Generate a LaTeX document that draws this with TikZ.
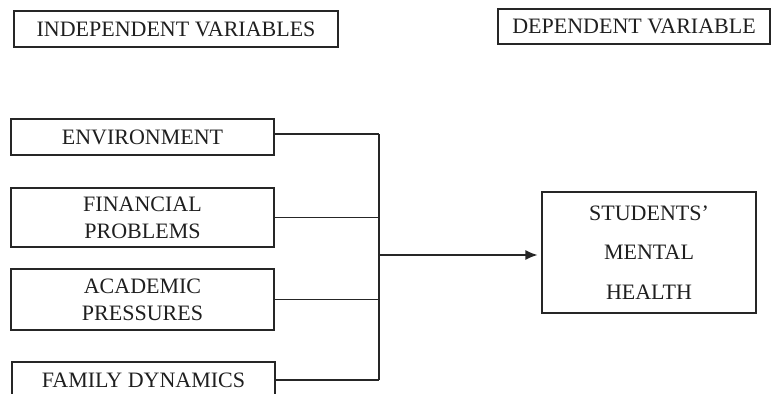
\documentclass[tikz,border=0pt]{standalone}
\usepackage{fontspec}
\setmainfont{Liberation Serif}
\usetikzlibrary{arrows.meta}
\begin{document}
\begin{tikzpicture}[x=1pt,y=-1pt,
  box/.style={draw=black!85, line width=1.2pt, inner sep=0pt, align=center,
    text=black!88, font=\fontsize{22}{27}\selectfont},
  wire/.style={draw=black!85, line width=1.2pt}]
\useasboundingbox (0,0) rectangle (772,394);
\clip (0,0) rectangle (772,394);
\node[box, minimum width=324pt, minimum height=36pt] (iv) at (176,29) {INDEPENDENT VARIABLES};
\node[box, minimum width=272pt, minimum height=35pt] (dv) at (634,26.5) {DEPENDENT VARIABLE};
\node[box, minimum width=263pt, minimum height=36pt] (env) at (142.5,137) {ENVIRONMENT};
\node[box, minimum width=263pt, minimum height=59pt] (fin) at (142.5,217.5) {FINANCIAL\\PROBLEMS};
\node[box, minimum width=263pt, minimum height=61pt] (aca) at (142.5,299.5) {ACADEMIC\\PRESSURES};
\node[box, minimum width=263pt, minimum height=36pt] (fam) at (143.5,380) {FAMILY DYNAMICS};
\node[box, minimum width=214pt, minimum height=121pt, font=\fontsize{22}{39.5}\selectfont] (smh) at (649,252.5) {STUDENTS'\\MENTAL\\HEALTH};
\coordinate (bt) at (379,134);
\coordinate (bb) at (379,380);
\coordinate (ba) at (379,255);
\draw[wire] ([yshift=3pt]env.east) -- (bt);
\draw[wire] (fin.east) -- (fin.east -| bt);
\draw[wire] (aca.east) -- (aca.east -| bt);
\draw[wire] (fam.east) -- (bb);
\draw[wire] (bt) -- (bb);
\draw[wire, shorten >=4pt, -{Latex[length=12pt,width=10pt]}] (ba) -- (ba -| smh.west);
\end{tikzpicture}
\end{document}
